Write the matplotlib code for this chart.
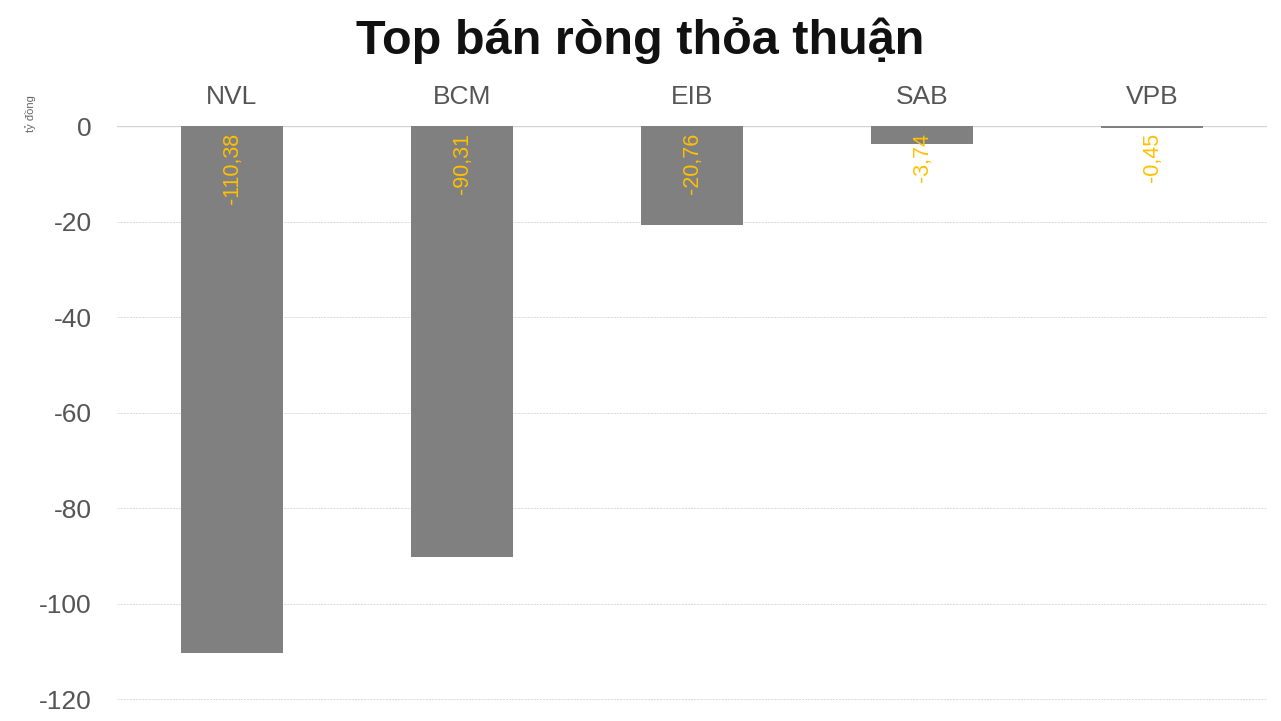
import matplotlib
matplotlib.use("Agg")
import matplotlib.pyplot as plt

categories = ["NVL", "BCM", "EIB", "SAB", "VPB"]
values = [-110.38, -90.31, -20.76, -3.74, -0.45]
labels = ["-110,38", "-90,31", "-20,76", "-3,74", "-0,45"]
yticks = [0, -20, -40, -60, -80, -100, -120]

plt.rcParams['font.family'] = ['Liberation Sans', 'DejaVu Sans']

W, H = 1281, 721
fig = plt.figure(figsize=(W / 100, H / 100), dpi=100)
ax = fig.add_axes([117 / W, 1 - 710 / H, 1150 / W, (710 - 126) / H])

x = list(range(len(categories)))
ax.bar(x, values, width=0.444, color="#808080", zorder=3)
ax.set_xlim(-0.5, len(categories) - 0.5)
ax.set_ylim(-122.3, 0)

for xi, v, lab in zip(x, values, labels):
    ax.annotate(lab, (xi, 0), xytext=(0, -5), textcoords="offset points",
                rotation=90, ha="center", va="top", color="#FFC000",
                fontsize=15.5, zorder=4)

ax.set_yticks(yticks)
ax.set_yticklabels([str(t) for t in yticks], fontsize=19, color="#555555")
ax.tick_params(axis="y", length=0, pad=18)
ax.set_xticks(x)
ax.set_xticklabels(categories, fontsize=19, color="#555555")
ax.xaxis.tick_top()
ax.tick_params(axis="x", length=0, pad=12)

for t in yticks:
    if t == 0:
        ax.axhline(t, color="#d3d3d3", lw=1.0, zorder=1)
    else:
        ax.axhline(t, color="#d6d6d6", lw=0.6, ls=(0, (2.5, 1.2)), zorder=1)

for s in ax.spines.values():
    s.set_visible(False)

fig.text(31 / W, 1 - 114 / H, "tỷ đồng", rotation=90, ha="center", va="center",
         fontsize=8, color="#666666")
fig.text(640 / W, 1 - 41 / H, "Top bán ròng thỏa thuận", ha="center", va="center",
         fontsize=35, fontweight="bold", color="#111111")

fig.savefig("out.png", dpi=100)
